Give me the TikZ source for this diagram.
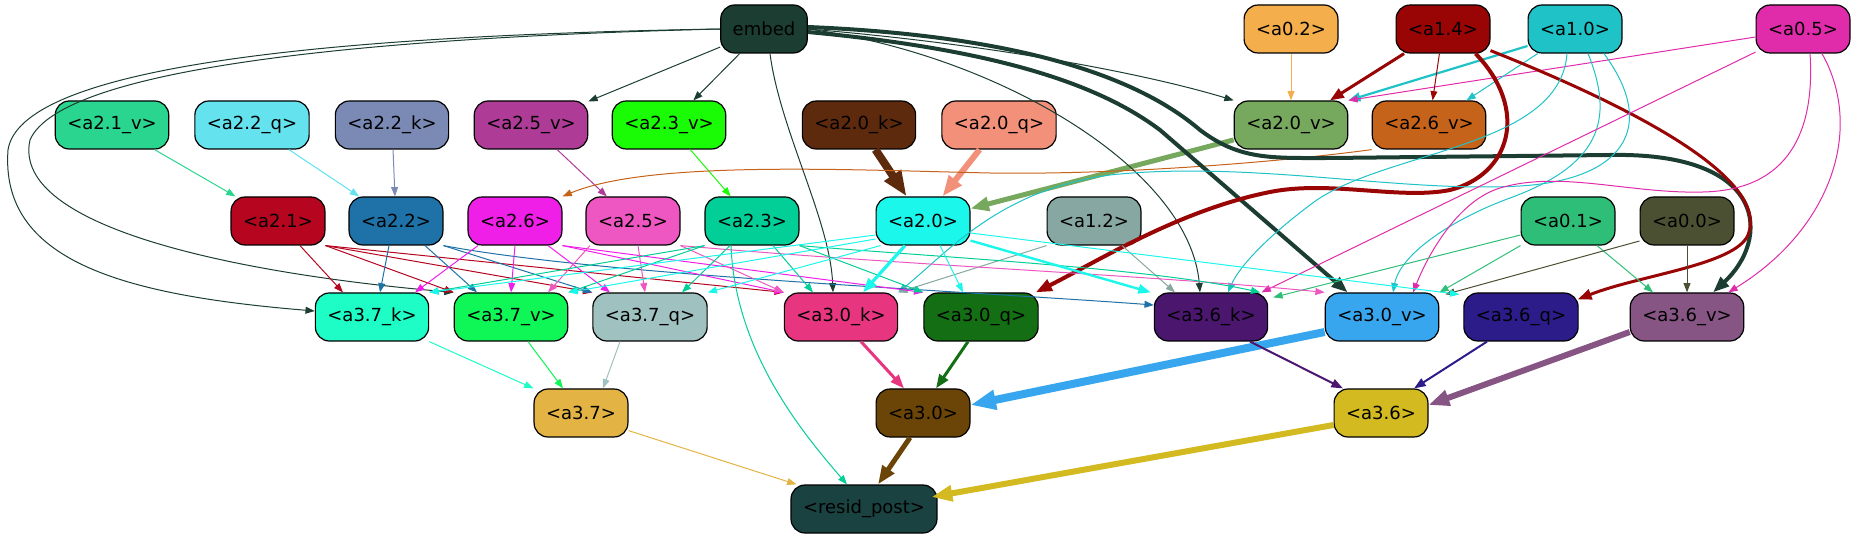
\documentclass[tikz,border=0pt]{standalone}
\usepackage{fontspec}
\setmainfont{DejaVu Sans}
\usetikzlibrary{arrows.meta,calc}
\definecolor{cEmb}{HTML}{1C3D31}
\definecolor{cAot}{HTML}{F4AE4C}
\definecolor{cAif}{HTML}{990505}
\definecolor{cAio}{HTML}{1FC2C7}
\definecolor{cAov}{HTML}{E02BAA}
\definecolor{cAtiV}{HTML}{2AD68F}
\definecolor{cAttQ}{HTML}{64E3EF}
\definecolor{cAttK}{HTML}{7A8AB4}
\definecolor{cAtvV}{HTML}{AE3C97}
\definecolor{cAthV}{HTML}{1AFB06}
\definecolor{cAtoK}{HTML}{5E2A0D}
\definecolor{cAtoQ}{HTML}{F2907A}
\definecolor{cAtoV}{HTML}{76A85E}
\definecolor{cAtsV}{HTML}{C6631B}
\definecolor{cAti}{HTML}{B5051F}
\definecolor{cAtt}{HTML}{1E72A8}
\definecolor{cAts}{HTML}{F01FE8}
\definecolor{cAtv}{HTML}{EE57C2}
\definecolor{cAth}{HTML}{02CF98}
\definecolor{cAto}{HTML}{1CF7EC}
\definecolor{cAit}{HTML}{86A7A2}
\definecolor{cAoi}{HTML}{2FBE78}
\definecolor{cAoo}{HTML}{4A5031}
\definecolor{cAheK}{HTML}{1DFDC5}
\definecolor{cAheV}{HTML}{0EF756}
\definecolor{cAheQ}{HTML}{9FC1BF}
\definecolor{cAhoK}{HTML}{E73580}
\definecolor{cAhoQ}{HTML}{146F14}
\definecolor{cAhsK}{HTML}{4A166E}
\definecolor{cAhoV}{HTML}{38A6EE}
\definecolor{cAhsQ}{HTML}{2C1C8A}
\definecolor{cAhsV}{HTML}{865584}
\definecolor{cAhe}{HTML}{E3B443}
\definecolor{cAho}{HTML}{6B4507}
\definecolor{cAhs}{HTML}{D3BA20}
\definecolor{cRes}{HTML}{1A4240}
\begin{document}
\begin{tikzpicture}[x=0.5pt,y=-0.5pt,
  nd/.style={draw=black, line width=0.6pt, rounded corners=7pt, minimum height=24pt,
    inner xsep=6pt, inner ysep=0pt, font=\fontsize{9}{11}\selectfont, text=black, fill=#1},
  ed/.style={draw=#1, line width=0.5pt, -{Triangle[length=3.5pt 2.3, width=2.6pt 1.7]}},
]
\useasboundingbox (0,0) rectangle (1857,539);
% row 1
\node[nd=cEmb] (embed) at (764,29) {embed};
\node[nd=cAot] (a02) at (1291,29) {<a0.2>};
\node[nd=cAif] (a14) at (1443,29) {<a1.4>};
\node[nd=cAio] (a10) at (1575,29) {<a1.0>};
\node[nd=cAov] (a05) at (1803,29) {<a0.5>};
% row 2
\node[nd=cAtiV] (a21v) at (112,125) {<a2.1\_v>};
\node[nd=cAttQ] (a22q) at (252,125) {<a2.2\_q>};
\node[nd=cAttK] (a22k) at (392,125) {<a2.2\_k>};
\node[nd=cAtvV] (a25v) at (531,125) {<a2.5\_v>};
\node[nd=cAthV] (a23v) at (669,125) {<a2.3\_v>};
\node[nd=cAtoK] (a20k) at (859,125) {<a2.0\_k>};
\node[nd=cAtoQ] (a20q) at (999,125) {<a2.0\_q>};
\node[nd=cAtoV] (a20v) at (1291,125) {<a2.0\_v>};
\node[nd=cAtsV] (a26v) at (1429,125) {<a2.6\_v>};
% row 3
\node[nd=cAti] (a21) at (278,221) {<a2.1>};
\node[nd=cAtt] (a22) at (396,221) {<a2.2>};
\node[nd=cAts] (a26) at (515,221) {<a2.6>};
\node[nd=cAtv] (a25) at (633,221) {<a2.5>};
\node[nd=cAth] (a23) at (752,221) {<a2.3>};
\node[nd=cAto] (a20) at (923,221) {<a2.0>};
\node[nd=cAit] (a12) at (1094,221) {<a1.2>};
\node[nd=cAoi] (a01) at (1568,221) {<a0.1>};
\node[nd=cAoo] (a00) at (1687,221) {<a0.0>};
% row 4
\node[nd=cAheK] (a37k) at (372,317) {<a3.7\_k>};
\node[nd=cAheV] (a37v) at (511,317) {<a3.7\_v>};
\node[nd=cAheQ] (a37q) at (650,317) {<a3.7\_q>};
\node[nd=cAhoK] (a30k) at (841,317) {<a3.0\_k>};
\node[nd=cAhoQ] (a30q) at (981,317) {<a3.0\_q>};
\node[nd=cAhsK] (a36k) at (1211,317) {<a3.6\_k>};
\node[nd=cAhoV] (a30v) at (1382,317) {<a3.0\_v>};
\node[nd=cAhsQ] (a36q) at (1521,317) {<a3.6\_q>};
\node[nd=cAhsV] (a36v) at (1687,317) {<a3.6\_v>};
% row 5
\node[nd=cAhe] (a37) at (581,413) {<a3.7>};
\node[nd=cAho] (a30) at (923,413) {<a3.0>};
\node[nd=cAhs] (a36) at (1381,413) {<a3.6>};
% row 6
\node[nd=cRes] (resid) at (864,509) {<resid\_post>};

% ---- row1 -> row2
\draw[ed=cEmb] (embed) -- (a25v);
\draw[ed=cEmb] (embed) -- (a23v);
\draw[ed=cEmb] (embed.east) .. controls (1000,45) and (1150,75) .. (a20v.north west);
\draw[ed=cAot] (a02) -- (a20v);
\draw[ed=cAif, line width=1.5pt] (a14) -- (a20v);
\draw[ed=cAio, line width=1.1pt] ($(a10.west)+(0,17)$) -- (a20v.north east);
\draw[ed=cAov] ($(a05.west)+(0,8)$) -- (a20v.north east);
\draw[ed=cAif] (a14) -- (a26v);
\draw[ed=cAio] (a10) -- (a26v);
% ---- row2 -> row3
\draw[ed=cAtiV] (a21v) -- (a21);
\draw[ed=cAttQ] (a22q) -- (a22);
\draw[ed=cAttK] (a22k) -- (a22);
\draw[ed=cAtvV] (a25v) -- (a25);
\draw[ed=cAthV] (a23v) -- (a23);
\draw[ed=cAtoK, line width=4pt] (a20k) -- (a20);
\draw[ed=cAtoQ, line width=3pt] (a20q) -- (a20);
\draw[ed=cAtoV, line width=2.5pt] (a20v) -- (a20);
\draw[ed=cAtsV] (a26v.south west) .. controls (1280,162) and (1120,175) .. (990,173)
  .. controls (850,170) and (650,160) .. (a26.north east);
% ---- long edges from top
\draw[ed=cEmb] (embed.west) .. controls (300,36) and (20,70) .. (8,150)
  .. controls (0,260) and (120,295) .. ($(a37k.west)+(0,-6)$);
\draw[ed=cEmb] (embed.west) .. controls (350,38) and (60,70) .. (30,140)
  .. controls (10,230) and (250,275) .. (a37v.north west);
\draw[ed=cEmb] ($(embed.south)+(6,0)$) .. controls (780,130) and (830,220) .. ($(a30k.north)+(-8,0)$);
\draw[ed=cEmb] (embed.east) .. controls (1000,55) and (1190,170) .. ($(a36k.north)+(-11,0)$);
\draw[ed=cEmb, line width=2pt] ($(embed.east)+(0,3)$) .. controls (1000,50) and (1100,85) .. (1160,130)
  -- ($(a30v.north west)+(23,0)$);
\draw[ed=cEmb, line width=2pt] ($(embed.east)+(0,-2)$) .. controls (1000,35) and (1130,70) .. (1200,130)
  .. controls (1240,160) and (1270,158) .. (1330,158) -- (1610,155)
  .. controls (1770,152) and (1770,240) .. ($(a36v.north)+(26,0)$);
\draw[ed=cAif, line width=2pt] ($(a14.south east)+(-15,0)$) .. controls (1530,110) and (1510,175) .. (1450,190)
  .. controls (1400,200) and (1330,180) .. (1270,192)
  .. controls (1180,210) and (1100,260) .. ($(a30q.north east)+(-3,0)$);
\draw[ed=cAif, line width=1.5pt] ($(a14.south east)+(0,-3)$) .. controls (1640,110) and (1770,180) .. (1748,235)
  .. controls (1735,265) and (1640,275) .. ($(a36q.north east)+(-1,7)$);
\draw[ed=cAio] ($(a10.south)+(-8,0)$) .. controls (1560,150) and (1380,150) .. (1310,205)
  .. controls (1270,235) and (1240,265) .. ($(a36k.north)+(17,0)$);
\draw[ed=cAio] ($(a10.south)+(13,0)$) .. controls (1615,120) and (1600,165) .. (1510,198)
  .. controls (1450,220) and (1400,255) .. ($(a30v.north)+(11,0)$);
\draw[ed=cAio] ($(a10.south)+(29,0)$) .. controls (1660,130) and (1620,180) .. (1520,186)
  .. controls (1400,193) and (1250,160) .. (1110,175)
  .. controls (1000,190) and (950,250) .. (a30k.north east);
\draw[ed=cAov] (a05) -- (a36k);
\draw[ed=cAov] ($(a05.south)+(7,0)$) .. controls (1815,130) and (1790,190) .. (1703,192)
  .. controls (1630,194) and (1560,170) .. (1500,188)
  .. controls (1460,200) and (1430,250) .. ($(a30v.north)+(31,0)$);
\draw[ed=cAov] ($(a05.south)+(19,0)$) .. controls (1865,130) and (1830,230) .. ($(a36v.north east)+(-16,0)$);
\draw[ed=cAoi] ($(a01.west)+(0,14)$) -- ($(a36k.north east)+(5,5)$);
\draw[ed=cAoi] (a01.south west) -- (a30v.north east);
\draw[ed=cAoi] ($(a01.south)+(29,0)$) -- ($(a36v.north)+(-34,0)$);
\draw[ed=cAoo] ($(a00.west)+(0,20)$) -- ($(a30v.north east)+(6,2)$);
\draw[ed=cAoo] (a00) -- (a36v);
\draw[ed=cAit] (a12.south west) -- (a30k.north east);
\draw[ed=cAit] ($(a12.south)+(28,0)$) -- ($(a36k.north)+(-36,0)$);
% ---- row3 -> row4
\draw[ed=cAti] ($(a21.south)+(22,0)$) -- ($(a37k.north)+(-29,0)$);
\draw[ed=cAti] (a21.south east) -- (a37v.north west);
\draw[ed=cAti] (a21.south east) -- (a37q.north west);
\draw[ed=cAti] (a21.south east) -- (a30k.north west);
\draw[ed=cAtt] ($(a22.south)+(-7,0)$) -- ($(a37k.north)+(8,0)$);
\draw[ed=cAtt] ($(a22.south)+(29,0)$) -- ($(a37v.north)+(-34,0)$);
\draw[ed=cAtt] (a22.south east) -- (a37q.north west);
\draw[ed=cAtt] (a22.south east) .. controls (600,275) and (950,290) .. ($(a36k.west)+(0,-12)$);
\draw[ed=cAts] ($(a26.south)+(-37,0)$) -- ($(a37k.north)+(43,0)$);
\draw[ed=cAts] (a26.south) -- (a37v.north);
\draw[ed=cAts] ($(a26.south)+(33,0)$) -- ($(a37q.north)+(-40,0)$);
\draw[ed=cAts] (a26.south east) -- (a30k.north west);
\draw[ed=cAts] (a26.south east) -- (a30q.north west);
\draw[ed=cAtv] ($(a25.south)+(-43,0)$) -- ($(a37v.north)+(37,0)$);
\draw[ed=cAtv] ($(a25.south)+(5,0)$) -- ($(a37q.north)+(-5,0)$);
\draw[ed=cAtv] (a25.south east) -- (a30k.north west);
\draw[ed=cAtv] (a25.south east) .. controls (900,265) and (1150,275) .. (a30v.north west);
\draw[ed=cAth] (a23.south west) -- (a37k.north east);
\draw[ed=cAth] (a23.south west) -- (a37v.north east);
\draw[ed=cAth] ($(a23.south)+(-22,0)$) -- ($(a37q.north)+(32,0)$);
\draw[ed=cAth] ($(a23.south)+(21,0)$) -- ($(a30k.north)+(-28,0)$);
\draw[ed=cAth] (a23.south east) -- (a30q.north west);
\draw[ed=cAth] (a23.south east) .. controls (950,258) and (1150,268) .. ($(a36k.north east)+(-8,0)$);
\draw[ed=cAth] ($(a23.south)+(-21,0)$) .. controls (735,350) and (800,430) .. ($(resid.north)+(-17,0)$);
\draw[ed=cAto] ($(a20.west)+(0,14)$) -- (a37k.north east);
\draw[ed=cAto] ($(a20.west)+(0,18)$) -- (a37v.north east);
\draw[ed=cAto] ($(a20.south west)+(5,0)$) -- (a37q.north east);
\draw[ed=cAto, line width=1.6pt] ($(a20.south)+(-18,0)$) -- ($(a30k.north)+(22,0)$);
\draw[ed=cAto] ($(a20.south)+(17,0)$) -- ($(a30q.north)+(-18,0)$);
\draw[ed=cAto, line width=1.2pt] ($(a20.south east)+(0,-5)$) -- ($(a36k.north west)+(-3,0)$);
\draw[ed=cAto] ($(a20.east)+(0,12)$) -- ($(a36q.north west)+(-4,2)$);
% ---- row4 -> row5
\draw[ed=cAheK] (a37k.south east) -- (a37.north west);
\draw[ed=cAheV] ($(a37v.south)+(17,0)$) -- ($(a37.north)+(-18,0)$);
\draw[ed=cAheQ] ($(a37q.south)+(-30,0)$) -- ($(a37.north)+(22,0)$);
\draw[ed=cAhoK, line width=1.5pt] ($(a30k.south)+(20,0)$) -- ($(a30.north)+(-19,0)$);
\draw[ed=cAhoQ, line width=1.5pt] ($(a30q.south)+(-13,0)$) -- ($(a30.north)+(13,0)$);
\draw[ed=cAhoV, line width=4pt] ($(a30v.west)+(0,15)$) -- ($(a30.east)+(0,-8)$);
\draw[ed=cAhsK, line width=1pt] ($(a36k.south)+(39,0)$) -- ($(a36.north)+(-38,0)$);
\draw[ed=cAhsQ, line width=1pt] ($(a36q.south)+(-34,0)$) -- ($(a36.north)+(33,0)$);
\draw[ed=cAhsV, line width=3pt] ($(a36v.west)+(0,15)$) -- ($(a36.east)+(0,-8)$);
% ---- row5 -> resid
\draw[ed=cAhe] ($(a37.south east)+(0,-7)$) -- ($(resid.north west)+(6,0)$);
\draw[ed=cAho, line width=2.5pt] ($(a30.south)+(-13,0)$) -- ($(resid.north)+(14,0)$);
\draw[ed=cAhs, line width=3pt] ($(a36.west)+(0,12)$) -- ($(resid.east)+(-6,-12)$);
\end{tikzpicture}
\end{document}
